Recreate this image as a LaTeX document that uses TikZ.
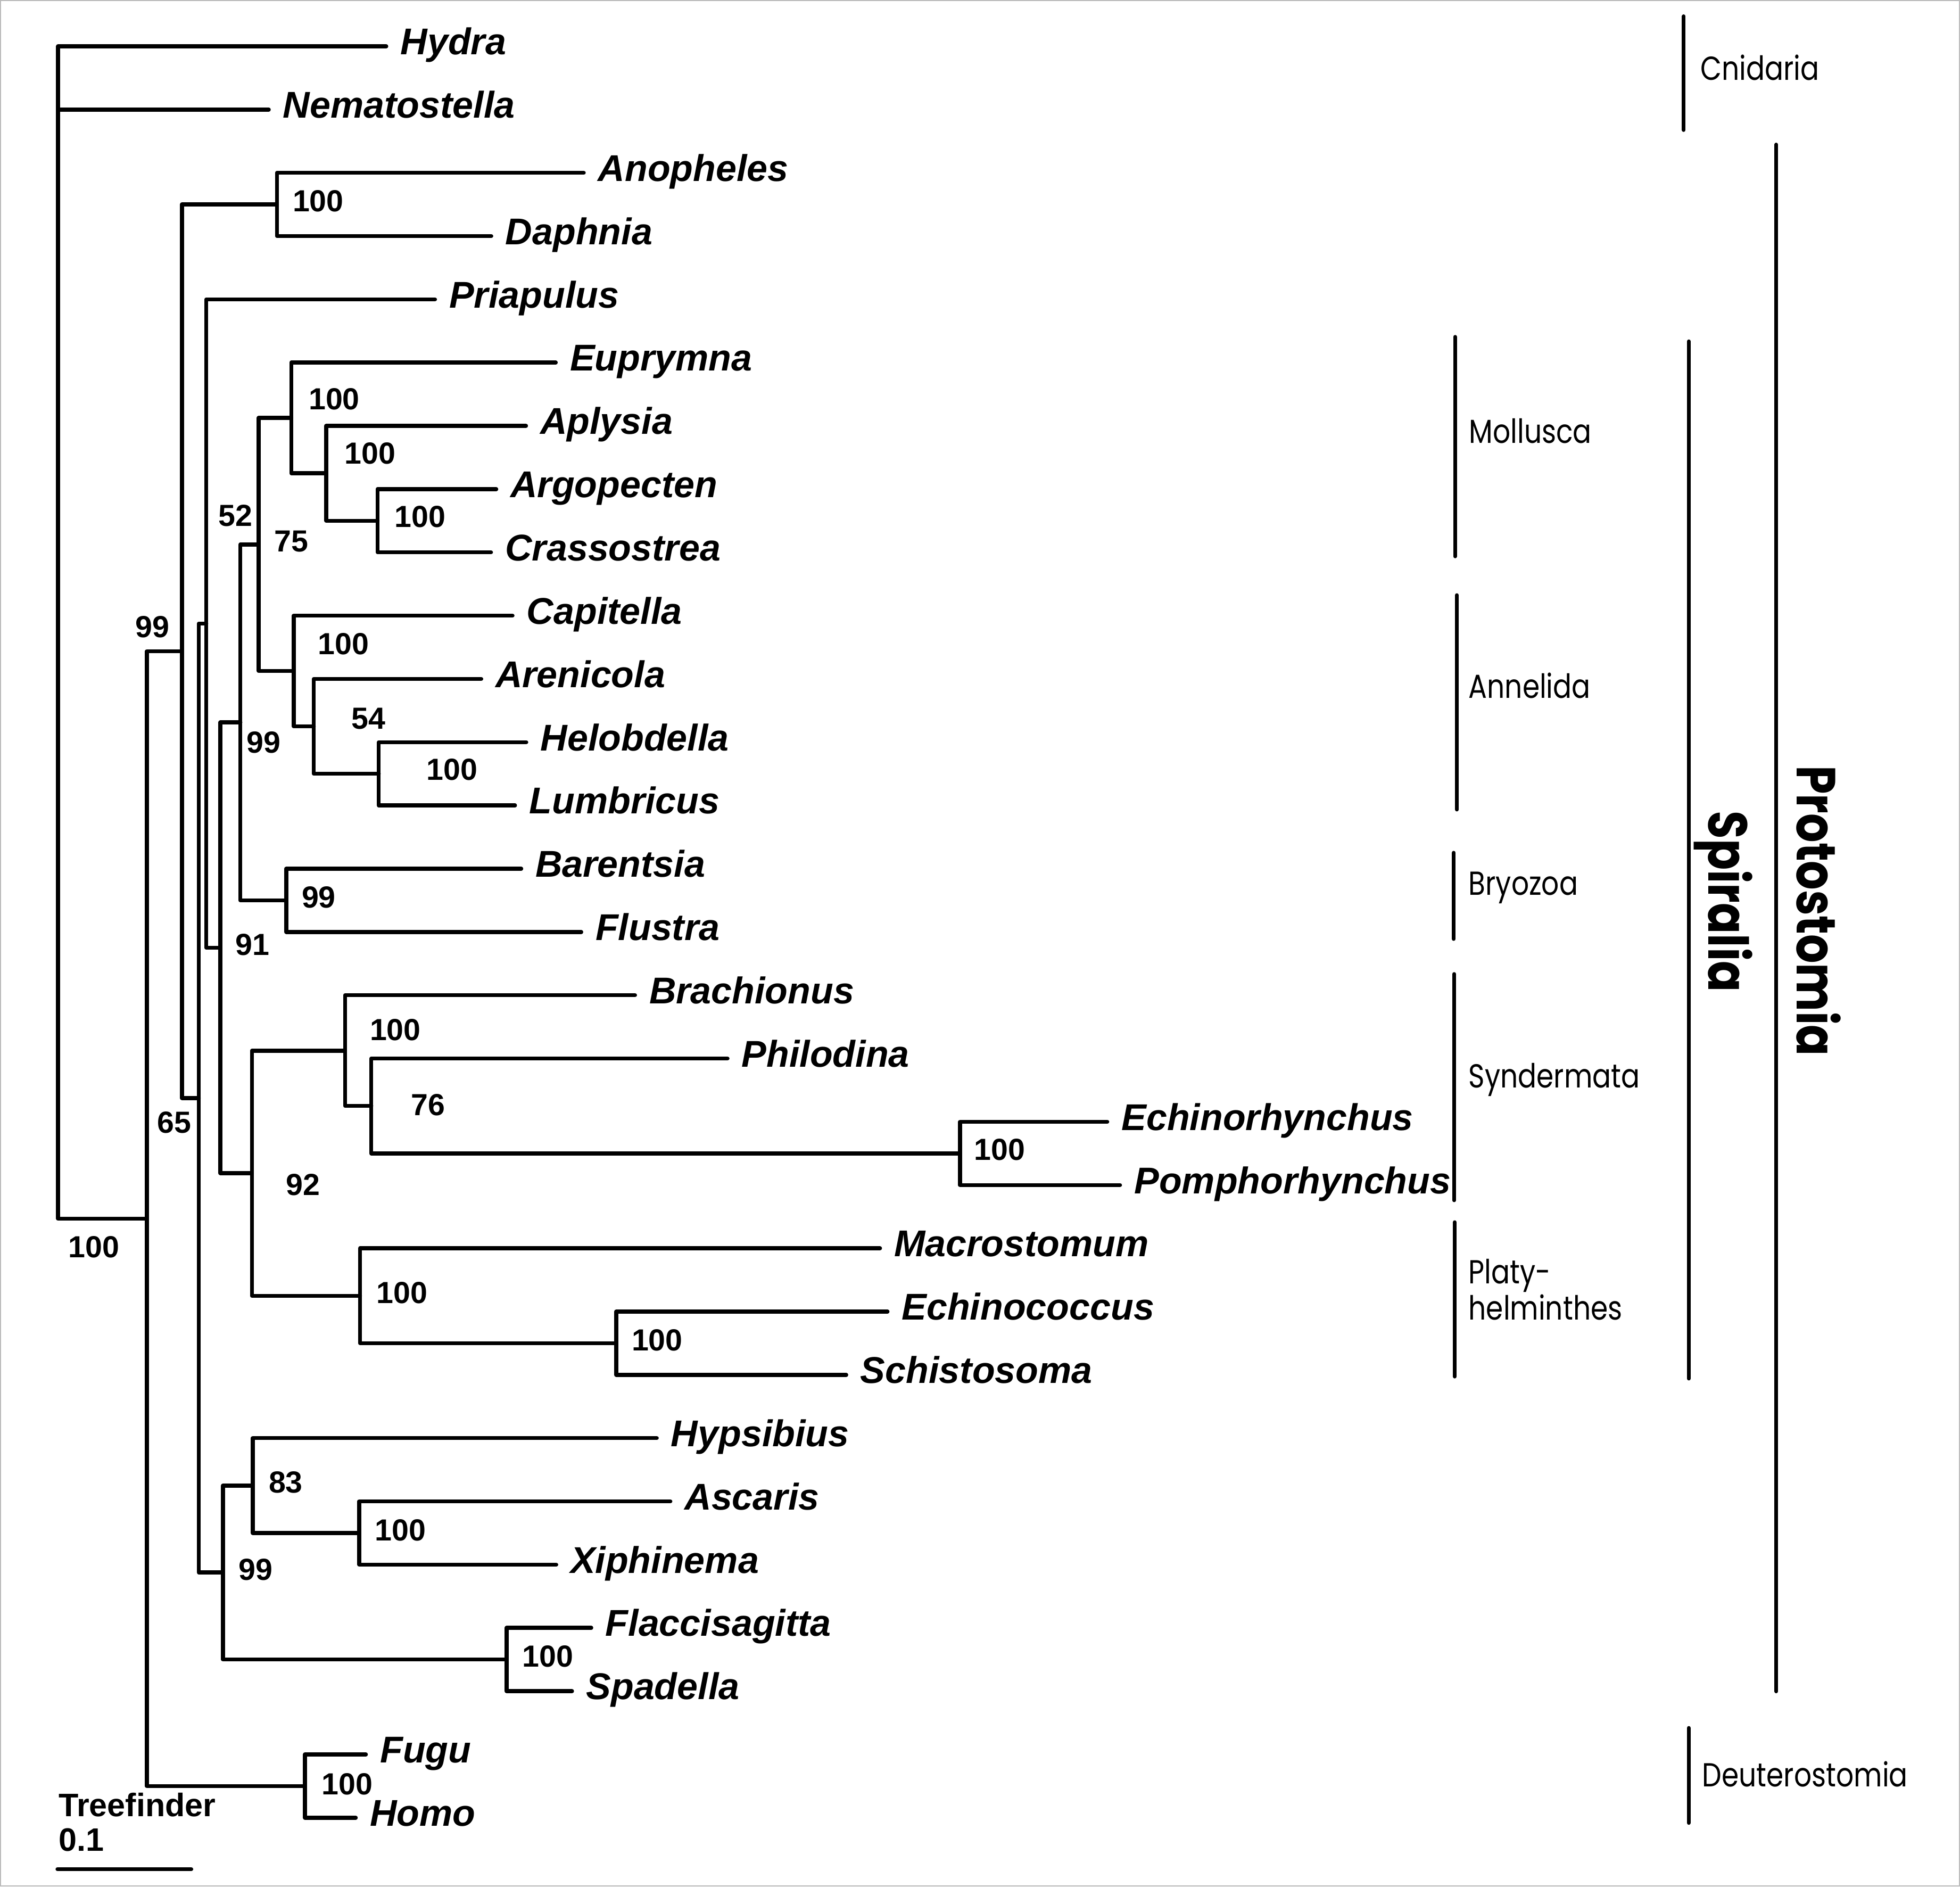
\documentclass[tikz,border=0pt]{standalone}
\usepackage{fontspec}
\setmainfont{Liberation Sans}
\newfontfamily\grpfont{Poppins}[FakeStretch=0.83]
\usepackage{tikz}

\begin{document}
\begin{tikzpicture}[x=0.5pt,y=-0.5pt,
    taxon/.style={anchor=west,inner xsep=5.5pt,inner ysep=0pt,text height=9pt,text depth=2.3pt,font=\fontsize{14.9}{17}\selectfont\bfseries\itshape},
    boot/.style={anchor=base west,inner sep=0pt,font=\fontsize{12.2}{14}\selectfont\bfseries},
    branch/.style={line width=1.6pt,line cap=round,line join=round},
    grpbar/.style={line width=1.5pt,line cap=round},
    grp/.style={anchor=base west,inner sep=0pt,font=\fontsize{13.3}{15}\selectfont\grpfont},
    clade/.style={anchor=base,inner sep=0pt,rotate=-90,font=\fontsize{22}{24}\selectfont\grpfont\bfseries}]
    \useasboundingbox (0,0) rectangle (1568,1509);
    \draw[gray!55,line width=0.4pt] (0.5,0.5) rectangle (1567.5,1508.5);

    % Taxa
    \node[taxon] (Hydra) at (309,37) {Hydra};
    \node[taxon] (Nematostella) at (215,87.6) {Nematostella};
    \node[taxon] (Anopheles) at (467,138.2) {Anopheles};
    \node[taxon] (Daphnia) at (393,188.8) {Daphnia};
    \node[taxon] (Priapulus) at (348,239.4) {Priapulus};
    \node[taxon] (Euprymna) at (444.6,290) {Euprymna};
    \node[taxon] (Aplysia) at (420.8,340.6) {Aplysia};
    \node[taxon] (Argopecten) at (397,391.2) {Argopecten};
    \node[taxon] (Crassostrea) at (392.8,441.8) {Crassostrea};
    \node[taxon] (Capitella) at (410,492.4) {Capitella};
    \node[taxon] (Arenicola) at (385,543) {Arenicola};
    \node[taxon] (Helobdella) at (421,593.6) {Helobdella};
    \node[taxon] (Lumbricus) at (412,644.2) {Lumbricus};
    \node[taxon] (Barentsia) at (417,694.8) {Barentsia};
    \node[taxon] (Flustra) at (465,745.4) {Flustra};
    \node[taxon] (Brachionus) at (508,796) {Brachionus};
    \node[taxon] (Philodina) at (582,846.6) {Philodina};
    \node[taxon] (Echinorhynchus) at (885.8,897.2) {Echinorhynchus};
    \node[taxon] (Pomphorhynchus) at (896,947.8) {Pomphorhynchus};
    \node[taxon] (Macrostomum) at (704,998.4) {Macrostomum};
    \node[taxon] (Echinococcus) at (710,1049) {Echinococcus};
    \node[taxon] (Schistosoma) at (677,1099.6) {Schistosoma};
    \node[taxon] (Hypsibius) at (525.4,1150.2) {Hypsibius};
    \node[taxon] (Ascaris) at (536.3,1200.8) {Ascaris};
    \node[taxon] (Xiphinema) at (445,1251.4) {Xiphinema};
    \node[taxon] (Flaccisagitta) at (473,1302) {Flaccisagitta};
    \node[taxon] (Spadella) at (457.6,1352.6) {Spadella};
    \node[taxon] (Fugu) at (292.7,1403.2) {Fugu};
    \node[taxon] (Homo) at (284.6,1453.8) {Homo};

    % Inner nodes
    \coordinate (n-root) at (46.5,974.7);
    \coordinate (n-bil) at (117.5,974.7);
    \coordinate (n-proto) at (145.5,520.85);
    \coordinate (n-arth) at (221.5,163.5);
    \coordinate (n-65) at (159,878.2);
    \coordinate (n-pri) at (165,498.7);
    \coordinate (n-91) at (176.3,758);
    \coordinate (n-99b) at (192.3,577.8);
    \coordinate (n-52) at (207,435.5);
    \coordinate (n-mol) at (233,334.3);
    \coordinate (n-mol2) at (261,378.55);
    \coordinate (n-mol3) at (302,416.5);
    \coordinate (n-ann) at (235,536.7);
    \coordinate (n-ann2) at (251,581);
    \coordinate (n-ann3) at (303,618.9);
    \coordinate (n-bry) at (229,720.1);
    \coordinate (n-92) at (201.5,938.3);
    \coordinate (n-synd) at (276,840.3);
    \coordinate (n-phil) at (297,884.55);
    \coordinate (n-acan) at (768,922.5);
    \coordinate (n-plat) at (288,1036.35);
    \coordinate (n-schi) at (493,1074.3);
    \coordinate (n-99c) at (178.4,1257.7);
    \coordinate (n-83) at (202.2,1188.15);
    \coordinate (n-xip) at (287.4,1226.1);
    \coordinate (n-chae) at (405.3,1327.3);
    \coordinate (n-deut) at (244,1428.5);

    % Branches
    \draw[branch] (Hydra.west) -| (n-root) |- (n-bil);
    \draw[branch] (Nematostella.west) -- (n-root |- Nematostella.west);
    \draw[branch] (n-proto) -| (n-bil) |- (n-deut);
    \draw[branch] (n-arth) -| (n-proto) |- (n-65);
    \draw[branch] (Anopheles.west) -| (n-arth) |- (Daphnia.west);
    \draw[branch] (n-pri) -| (n-65) |- (n-99c);
    \draw[branch] (Priapulus.west) -| (n-pri) |- (n-91);
    \draw[branch] (n-99b) -| (n-91) |- (n-92);
    \draw[branch] (n-52) -| (n-99b) |- (n-bry);
    \draw[branch] (n-mol) -| (n-52) |- (n-ann);
    \draw[branch] (Euprymna.west) -| (n-mol) |- (n-mol2);
    \draw[branch] (Aplysia.west) -| (n-mol2) |- (n-mol3);
    \draw[branch] (Argopecten.west) -| (n-mol3) |- (Crassostrea.west);
    \draw[branch] (Capitella.west) -| (n-ann) |- (n-ann2);
    \draw[branch] (Arenicola.west) -| (n-ann2) |- (n-ann3);
    \draw[branch] (Helobdella.west) -| (n-ann3) |- (Lumbricus.west);
    \draw[branch] (Barentsia.west) -| (n-bry) |- (Flustra.west);
    \draw[branch] (n-synd) -| (n-92) |- (n-plat);
    \draw[branch] (Brachionus.west) -| (n-synd) |- (n-phil);
    \draw[branch] (Philodina.west) -| (n-phil) |- (n-acan);
    \draw[branch] (Echinorhynchus.west) -| (n-acan) |- (Pomphorhynchus.west);
    \draw[branch] (Macrostomum.west) -| (n-plat) |- (n-schi);
    \draw[branch] (Echinococcus.west) -| (n-schi) |- (Schistosoma.west);
    \draw[branch] (n-83) -| (n-99c) |- (n-chae);
    \draw[branch] (Hypsibius.west) -| (n-83) |- (n-xip);
    \draw[branch] (Ascaris.west) -| (n-xip) |- (Xiphinema.west);
    \draw[branch] (Flaccisagitta.west) -| (n-chae) |- (Spadella.west);
    \draw[branch] (Fugu.west) -| (n-deut) |- (Homo.west);

    % Bootstrap values
    \node[boot] (b-root) at (54.3,1006) {100};
    \node[boot] (b-proto) at (108,510) {99};
    \node[boot] (b-arth) at (233.8,169.4) {100};
    \node[boot] (b-65) at (125.6,906) {65};
    \node[boot] (b-52) at (174.3,420.8) {52};
    \node[boot] (b-75) at (219,441.3) {75};
    \node[boot] (b-mol) at (246.6,327.4) {100};
    \node[boot] (b-mol2) at (275.2,371) {100};
    \node[boot] (b-mol3) at (315.3,421.8) {100};
    \node[boot] (b-ann) at (254,523.6) {100};
    \node[boot] (b-ann2) at (281,583) {54};
    \node[boot] (b-ann3) at (341,624) {100};
    \node[boot] (b-99b) at (197,602.4) {99};
    \node[boot] (b-bry) at (241,726) {99};
    \node[boot] (b-91) at (188,764) {91};
    \node[boot] (b-synd) at (295.5,832) {100};
    \node[boot] (b-phil) at (328.5,892) {76};
    \node[boot] (b-acan) at (779,928) {100};
    \node[boot] (b-92) at (228.5,956) {92};
    \node[boot] (b-plat) at (301,1042.6) {100};
    \node[boot] (b-schi) at (505,1080.5) {100};
    \node[boot] (b-83) at (214.6,1194) {83};
    \node[boot] (b-xip) at (299.7,1232.5) {100};
    \node[boot] (b-99c) at (190.7,1263.7) {99};
    \node[boot] (b-chae) at (417.6,1333) {100};
    \node[boot] (b-deut) at (257,1435.2) {100};

    % Scale bar
    \node[anchor=base west,inner sep=0pt,font=\fontsize{13}{14}\selectfont\bfseries] (tf) at (46.5,1453) {Treefinder};
    \node[anchor=base west,inner sep=0pt,font=\fontsize{13}{14}\selectfont\bfseries] (sc) at (46.5,1480.6) {0.1};
    \coordinate (sb-l) at (46,1495);
    \coordinate (sb-r) at (153,1495);
    \draw[branch] (sb-l) -- (sb-r);

    % Groups
    \draw[grpbar] (1347,13) -- (1347,104);
    \node[grp] (cni) at (1360,64) {Cnidaria};
    \draw[grpbar] (1164,269.4) -- (1164,445);
    \node[grp] (mol) at (1175,354.4) {Mollusca};
    \draw[grpbar] (1165.5,476) -- (1165.5,647.5);
    \node[grp] (ann) at (1174.5,558.4) {Annelida};
    \draw[grpbar] (1163,682) -- (1163,751);
    \node[grp] (bry) at (1174.5,716) {Bryozoa};
    \draw[grpbar] (1163.3,779) -- (1163.3,960);
    \node[grp] (syn) at (1174.5,870) {Syndermata};
    \draw[grpbar] (1163.8,977.5) -- (1163.8,1101);
    \node[grp] (pla) at (1174.5,1026.6) {Platy-};
    \node[grp] (hel) at (1174.5,1055.5) {helminthes};
    \draw[grpbar] (1351,1382) -- (1351,1458);
    \node[grp] (deu) at (1361.5,1429) {Deuterostomia};

    % Spiralia and Protostomia
    \draw[grpbar] (1351,273) -- (1351,1102.6);
    \node[clade] (spi) at (1367,721) {Spiralia};
    \draw[grpbar] (1421,115.6) -- (1421,1352.8);
    \node[clade] (pro) at (1437.6,728.5) {Protostomia};
\end{tikzpicture}
\end{document}
